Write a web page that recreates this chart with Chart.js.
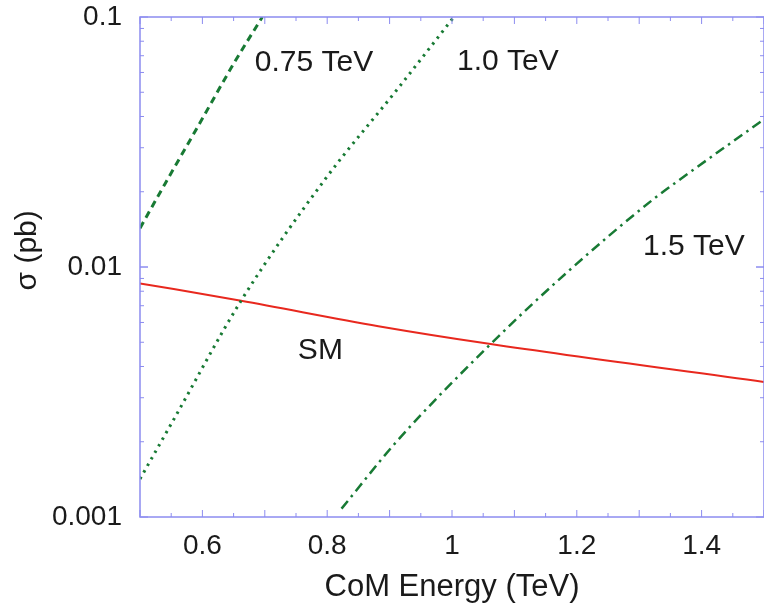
<!DOCTYPE html>
<html>
<head>
<meta charset="utf-8">
<script src="https://cdn.jsdelivr.net/npm/chart.js@4.4.1/dist/chart.umd.min.js"></script>
<style>
  html, body { margin: 0; padding: 0; background: #fff; }
</style>
</head>
<body>
<canvas id="chart" width="764" height="615"></canvas>
<script>
// values (x: CoM energy in TeV, y: sigma in pb)
const energy075 = [0.5, 0.54, 0.5955, 0.65, 0.696]
const sigma075 = [0.0143, 0.0215, 0.0375, 0.065, 0.1]

const energy100 = [0.5, 0.551, 0.662, 0.797, 0.914, 1.003]
const sigma100 = [0.00142, 0.00238, 0.00733, 0.0225, 0.052, 0.1]

const energy150 = [0.823, 0.911, 1.062, 1.185, 1.323, 1.36, 1.5]
const sigma150 = [0.00108, 0.002, 0.00492, 0.00955, 0.0187, 0.0219, 0.039]

const energySM = [0.5, 0.662, 0.882, 1.062, 1.5]
const sigmaSM = [0.0086, 0.00733, 0.0058, 0.00492, 0.00347]

const xTickValues = [0.6, 0.8, 1, 1.2, 1.4]
const yTickValues = [0.001, 0.01, 0.1]

const axisColor = '#8c8cf0'
const green = '#187a34'
const textColor = '#1a1a1a'
const fontFamily = '"Liberation Sans", Arial, sans-serif'

const toPoints = (xs, ys) => xs.map((x, i) => ({ x, y: ys[i] }))

// curve labels, anchored in data coordinates (left edge, vertical middle)
const curveLabels = [
  { text: '0.75 TeV', x: 0.684, y: 0.0655 },
  { text: '1.0 TeV', x: 1.008, y: 0.066 },
  { text: '1.5 TeV', x: 1.306, y: 0.012 },
  { text: 'SM', x: 0.753, y: 0.00461 }
]

const line = (ctx, x1, y1, x2, y2) => {
  ctx.beginPath()
  ctx.moveTo(x1, y1)
  ctx.lineTo(x2, y2)
  ctx.stroke()
}

const framePlugin = {
  id: 'frame',
  afterDatasetsDraw(chart) {
    const { ctx, chartArea: a, scales: { x, y } } = chart
    ctx.save()
    ctx.strokeStyle = axisColor
    ctx.lineWidth = 1.5
    ctx.strokeRect(a.left, a.top, a.right - a.left, a.bottom - a.top)

    ctx.lineWidth = 1
    for (let i = 0; i <= 20; i++) {
      const px = x.getPixelForValue(x.min + i * 0.05)
      const len = i % 2 === 0 ? 7 : 4
      line(ctx, px, a.bottom, px, a.bottom - len)
      line(ctx, px, a.top, px, a.top + len)
    }
    for (let e = -3; e < -1; e++) {
      for (let k = 1; k <= 10; k++) {
        const py = y.getPixelForValue(k * Math.pow(10, e))
        const len = k === 1 || k === 10 ? 8 : 4
        line(ctx, a.left, py, a.left + len, py)
        line(ctx, a.right, py, a.right - len, py)
      }
    }

    ctx.fillStyle = textColor
    ctx.font = `30px ${fontFamily}`
    ctx.textAlign = 'left'
    ctx.textBaseline = 'middle'
    curveLabels.forEach((l) => {
      ctx.fillText(l.text, x.getPixelForValue(l.x), y.getPixelForValue(l.y))
    })
    ctx.restore()
  }
}

const lineDefaults = {
  pointRadius: 0,
  fill: false,
  cubicInterpolationMode: 'monotone'
}

new Chart(document.getElementById('chart'), {
  type: 'line',
  data: {
    datasets: [
      {
        ...lineDefaults,
        label: '0.75 TeV',
        data: toPoints(energy075, sigma075),
        borderColor: green,
        borderWidth: 3,
        borderDash: [7, 5]
      },
      {
        ...lineDefaults,
        label: '1.0 TeV',
        data: toPoints(energy100, sigma100),
        borderColor: green,
        borderWidth: 3,
        borderDash: [2.5, 5]
      },
      {
        ...lineDefaults,
        label: '1.5 TeV',
        data: toPoints(energy150, sigma150),
        borderColor: green,
        borderWidth: 2.5,
        borderDash: [10, 5, 2.5, 5]
      },
      {
        ...lineDefaults,
        label: 'SM',
        data: toPoints(energySM, sigmaSM),
        borderColor: '#e8281e',
        borderWidth: 2
      }
    ]
  },
  options: {
    responsive: false,
    animation: false,
    layout: {
      padding: { top: 17, right: 0, left: 0, bottom: 0 }
    },
    plugins: {
      legend: { display: false },
      tooltip: { enabled: false }
    },
    scales: {
      x: {
        type: 'linear',
        min: 0.5,
        max: 1.5,
        afterFit: (scale) => {
          scale.height = 98
          scale.paddingLeft = 0
          scale.paddingRight = 0
        },
        afterBuildTicks: (scale) => {
          scale.ticks = xTickValues.map((value) => ({ value }))
        },
        grid: { display: false, drawTicks: false },
        border: { display: false },
        ticks: {
          padding: 12,
          color: textColor,
          font: { family: fontFamily, size: 28 },
          maxRotation: 0,
          callback: (value) => String(value)
        },
        title: {
          display: true,
          text: 'CoM Energy (TeV)',
          color: textColor,
          font: { family: fontFamily, size: 31 },
          padding: { top: 0, bottom: 9 }
        }
      },
      y: {
        type: 'logarithmic',
        min: 0.001,
        max: 0.1,
        afterFit: (scale) => {
          scale.width = 140
          scale.paddingTop = 0
          scale.paddingBottom = 0
        },
        afterBuildTicks: (scale) => {
          scale.ticks = yTickValues.map((value) => ({ value }))
        },
        grid: { display: false, drawTicks: false },
        border: { display: false },
        ticks: {
          padding: 18,
          color: textColor,
          font: { family: fontFamily, size: 28 },
          callback: (value) => String(value)
        },
        title: {
          display: true,
          text: '    σ (pb)',
          color: textColor,
          font: { family: fontFamily, size: 30 },
          padding: { top: 10, bottom: 0 }
        }
      }
    }
  },
  plugins: [framePlugin]
})
</script>
</body>
</html>
